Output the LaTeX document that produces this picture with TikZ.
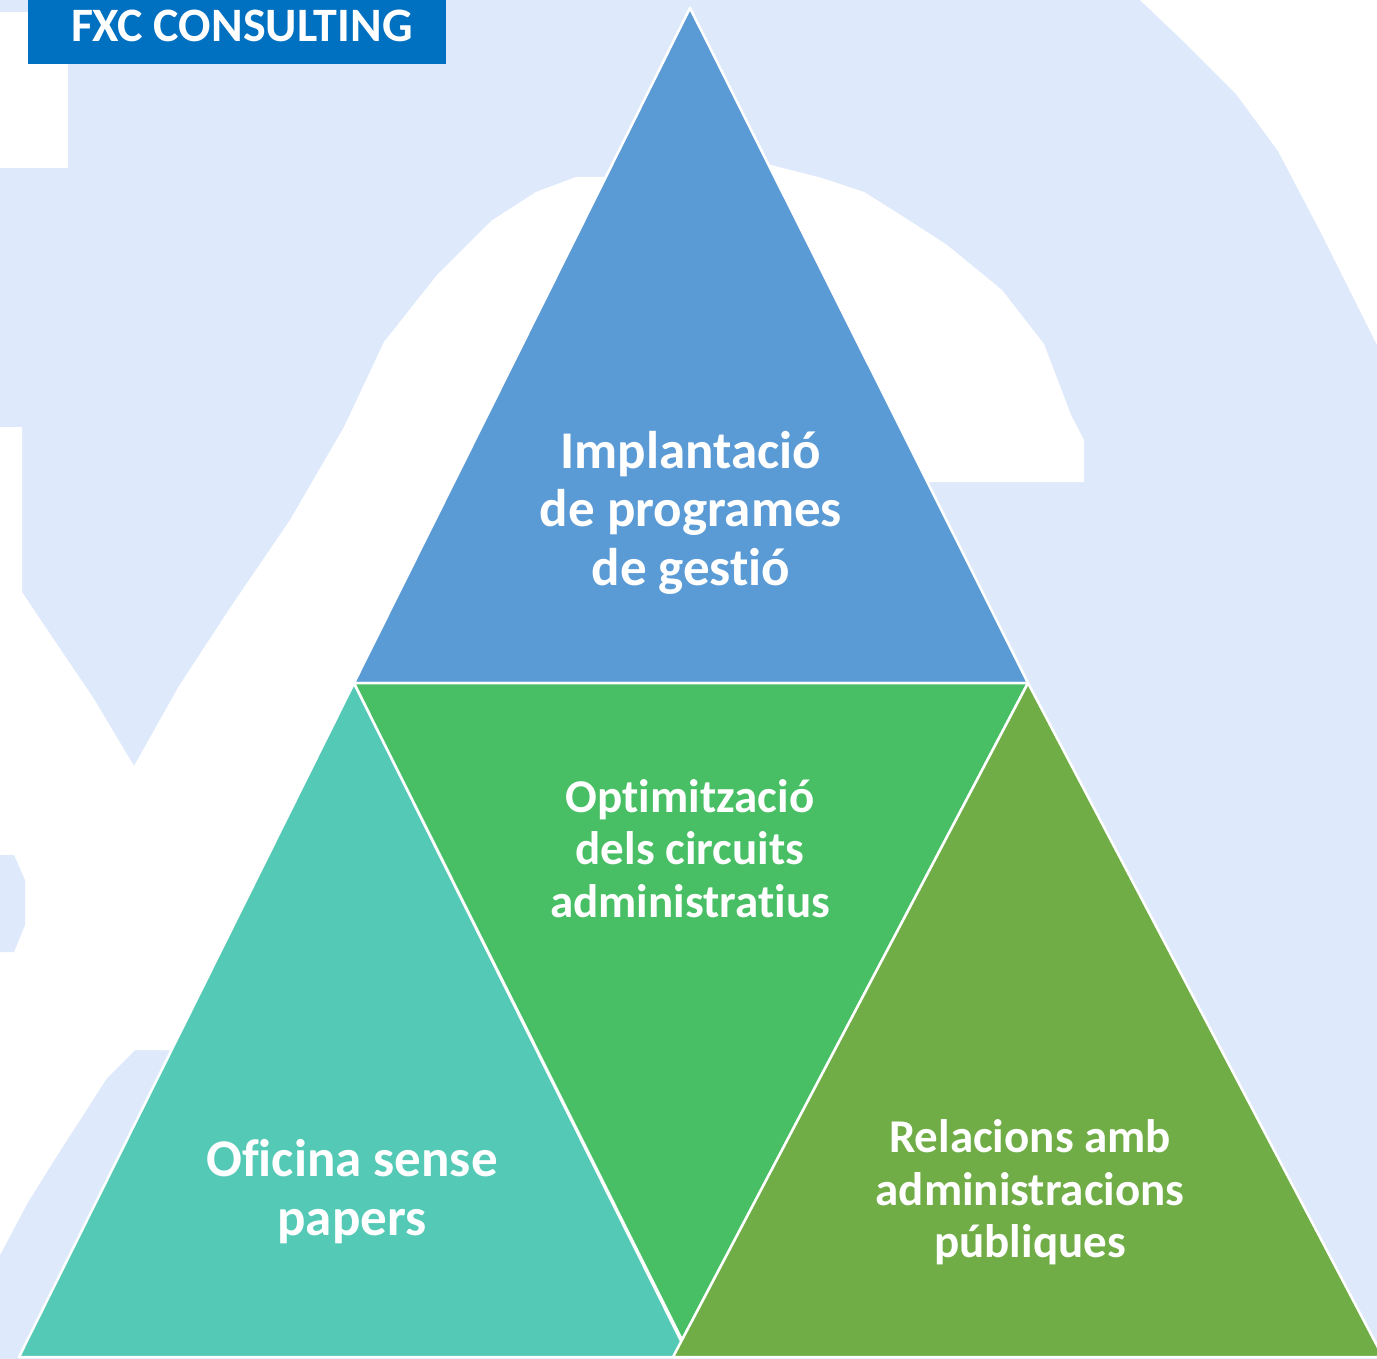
\documentclass[tikz,border=0pt]{standalone}
\usepackage{fontspec}
\setmainfont{Carlito}[Ligatures={NoCommon,NoContextual}]
\newcommand\nolig{\kern0pt}

\definecolor{paleblue}{RGB}{222,234,251}
\definecolor{logoblue}{RGB}{0,112,192}
\definecolor{topblue}{RGB}{91,155,213}
\definecolor{midgreen}{RGB}{73,191,101}
\definecolor{teal}{RGB}{84,201,182}
\definecolor{olive}{RGB}{112,173,71}

\tikzset{
  tri/.style={draw=white,line width=2.5pt,line join=round},
  big/.style={text=white,align=center,inner sep=0pt,
    font=\bfseries\fontsize{53}{58.5}\selectfont},
  small/.style={text=white,align=center,inner sep=0pt,
    font=\bfseries\fontsize{47}{52.5}\selectfont}
}

\begin{document}
\begin{tikzpicture}[x=1pt,y=-1pt]
    \useasboundingbox (0,0) rectangle (1377,1359);

    % Watermark background
    \fill[paleblue] (0,0) rectangle (1377,1359);
    \fill[white] (0,12) rectangle (68,168);
    \fill[white] (640,177) -- (576,177) -- (536,192) -- (491,221) -- (437,275)
      -- (384,342) -- (344,427) -- (290,520) -- (232,605) -- (179,686)
      -- (134,766) -- (94,699) -- (40,619) -- (22,592) -- (22,427) -- (0,427)
      -- (0,1255) -- (27,1204) -- (53,1162) -- (80,1120) -- (107,1078)
      -- (135,1050) -- (200,1050) -- (400,684) -- cycle;
    \fill[paleblue] (0,855) -- (14,855) -- (25,880) -- (25,925) -- (14,952)
      -- (0,952) -- cycle;
    \fill[white] (750,165) -- (771,165) -- (822,178) -- (864,192) -- (907,219)
      -- (947,245) -- (1002,290) -- (1044,344) -- (1071,415) -- (1084,440)
      -- (1084,482) -- (900,482) -- cycle;
    \fill[white] (1140,0) -- (1182,40) -- (1236,94) -- (1278,151)
      -- (1320,231) -- (1360,311) -- (1377,345) -- (1377,0) -- cycle;

    % Logo
    \fill[logoblue] (28,0) rectangle (446,64);
    \node[text=white,inner sep=0pt,anchor=base,
      font=\bfseries\fontsize{48}{52}\selectfont] (logo) at (242,42) {FXC CONSULTING};

    % Corners of the triangles
    \coordinate (apex) at (690,8);
    \coordinate (bl) at (354,683);
    \coordinate (br) at (1028,683);
    \coordinate (tip) at (682,1340);
    \coordinate (tl) at (19,1357);
    \coordinate (tr) at (689,1357);
    \coordinate (ol) at (673,1357);
    \coordinate (or) at (1383,1357);

    % Triangles
    \filldraw[tri,fill=topblue] (apex) -- (br) -- (bl) -- cycle;
    \filldraw[tri,fill=teal] (bl) -- (tr) -- (tl) -- cycle;
    \filldraw[tri,fill=midgreen] (bl) -- (br) -- (tip) -- cycle;
    \filldraw[tri,fill=olive] (br) -- (or) -- (ol) -- cycle;

    % Labels
    \node[big] (gestio) at (691,512.5) {Implantació\\de programes\\de gest\nolig ió};
    \node[small] (circuits) at (690,848.5) {Opt\nolig imització\\dels circuits\\administrat\nolig ius};
    \node[big] (papers) at (352,1191.5) {Of\nolig icina sense\\papers};
    \node[small] (admin) at (1030,1192.5) {Relacions amb\\administracions\\públiques};
\end{tikzpicture}
\end{document}
